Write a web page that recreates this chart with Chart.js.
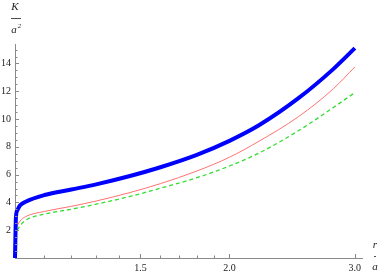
<!DOCTYPE html>
<html>
<head>
<meta charset="utf-8">
<script src="https://cdn.jsdelivr.net/npm/chart.js@4/dist/chart.umd.min.js"></script>
<style>
  html, body { margin: 0; padding: 0; background: #fff; }
  #wrap { width: 382px; height: 275px; }
</style>
</head>
<body>
<div id="wrap"><canvas id="kChart" width="382" height="275"></canvas></div>
<script>
// r/a sample points
const rValues = [1.0, 1.003, 1.008, 1.016, 1.035, 1.1, 1.2, 1.3, 1.45, 1.6, 1.8, 2.0, 2.2, 2.5, 2.8, 3.0];
// K/a^2 curves
const kBlue  = [0, 2.9, 3.45, 3.78, 4.05, 4.53, 4.93, 5.3, 5.9, 6.53, 7.42, 8.43, 9.55, 11.5, 13.61, 15.1];
const kRed   = [0, 1.9, 2.35, 2.65, 2.98, 3.35, 3.72, 4.1, 4.71, 5.35, 6.26, 7.25, 8.4, 10.17, 12.19, 13.75];
const kGreen = [0, 1.5, 2.0, 2.3, 2.72, 3.16, 3.51, 3.87, 4.43, 5.02, 5.78, 6.62, 7.55, 9.16, 10.84, 11.9];

// axis ticks
const xTickLabels = [1.5, 2.0, 3.0];
const xMinorTicks = [1.1, 1.2, 1.3, 1.4, 1.6, 1.7, 1.8, 1.9];
const yTickLabels = [2, 4, 6, 8, 10, 12, 14];

const serif = "'Liberation Serif', 'DejaVu Serif', serif";
const axisGray = '#8a8a8a';

function toPoints(ys) {
  return rValues.map((r, i) => ({ x: r, y: ys[i] }));
}

// 轴上的刻度线向内画（Mathematica 风格）
const inwardTicks = {
  id: 'inwardTicks',
  afterDraw(chart) {
    const ctx = chart.ctx;
    const xs = chart.scales.x;
    const ys = chart.scales.y;
    const area = chart.chartArea;
    ctx.save();
    ctx.strokeStyle = axisGray;
    ctx.lineWidth = 1;
    ctx.beginPath();
    xTickLabels.concat(xMinorTicks).forEach(v => {
      const px = Math.round(xs.getPixelForValue(v)) + 0.5;
      const len = xTickLabels.includes(v) ? 4 : 2.5;
      ctx.moveTo(px, area.bottom);
      ctx.lineTo(px, area.bottom - len);
    });
    for (let v = 0.5; v <= 15; v += 0.5) {
      const py = Math.round(ys.getPixelForValue(v)) + 0.5;
      const len = yTickLabels.includes(v) ? 4 : 2.5;
      ctx.moveTo(area.left, py);
      ctx.lineTo(area.left + len, py);
    }
    ctx.stroke();

    // 轴标题 K/a² 和 r/a
    ctx.fillStyle = '#222';
    ctx.textAlign = 'center';
    ctx.textBaseline = 'middle';
    ctx.font = 'italic 11px ' + serif;
    ctx.fillText('K', 15, 7);
    ctx.fillText('a', 14, 30);
    ctx.font = 'italic 7px ' + serif;
    ctx.fillText('2', 19.5, 26);
    ctx.fillRect(11, 18, 10, 0.8);
    ctx.font = 'italic 11px ' + serif;
    ctx.fillText('r', 375, 245);
    ctx.fillText('a', 375, 267);
    ctx.fillRect(374, 256, 2, 0.8);
    ctx.restore();
  }
};

new Chart(document.getElementById('kChart'), {
  type: 'line',
  data: {
    datasets: [
      {
        data: toPoints(kBlue),
        borderColor: '#0000ff',
        borderWidth: 4,
        pointRadius: 0,
        cubicInterpolationMode: 'monotone',
        clip: false
      },
      {
        data: toPoints(kRed),
        borderColor: '#ff7272',
        borderWidth: 1,
        pointRadius: 0,
        cubicInterpolationMode: 'monotone',
        clip: false
      },
      {
        data: toPoints(kGreen),
        borderColor: '#33dd33',
        borderWidth: 1.3,
        borderDash: [4, 3],
        pointRadius: 0,
        cubicInterpolationMode: 'monotone',
        clip: false
      }
    ]
  },
  options: {
    responsive: false,
    animation: false,
    layout: { padding: { left: 0, right: 20, top: 44, bottom: 0 } },
    plugins: {
      legend: { display: false },
      tooltip: { enabled: false }
    },
    scales: {
      x: {
        type: 'logarithmic',
        min: 1,
        max: 3.07,
        afterBuildTicks: scale => {
          scale.ticks = xTickLabels.map(v => ({ value: v }));
        },
        afterFit: scale => { scale.height = 17; },
        grid: { display: false, drawTicks: false },
        border: { display: true, color: axisGray, width: 1 },
        ticks: {
          autoSkip: false,
          maxRotation: 0,
          padding: 4,
          color: '#222',
          font: { family: serif, size: 10 },
          callback: v => Number(v).toFixed(1)
        }
      },
      y: {
        min: 0,
        max: 15.4,
        afterBuildTicks: scale => {
          scale.ticks = yTickLabels.map(v => ({ value: v }));
        },
        afterFit: scale => { scale.width = 15; },
        grid: { display: false, drawTicks: false },
        border: { display: true, color: axisGray, width: 1 },
        ticks: {
          autoSkip: false,
          padding: 4,
          color: '#222',
          font: { family: serif, size: 10 },
          callback: v => String(v)
        }
      }
    }
  },
  plugins: [inwardTicks]
});
</script>
</body>
</html>
